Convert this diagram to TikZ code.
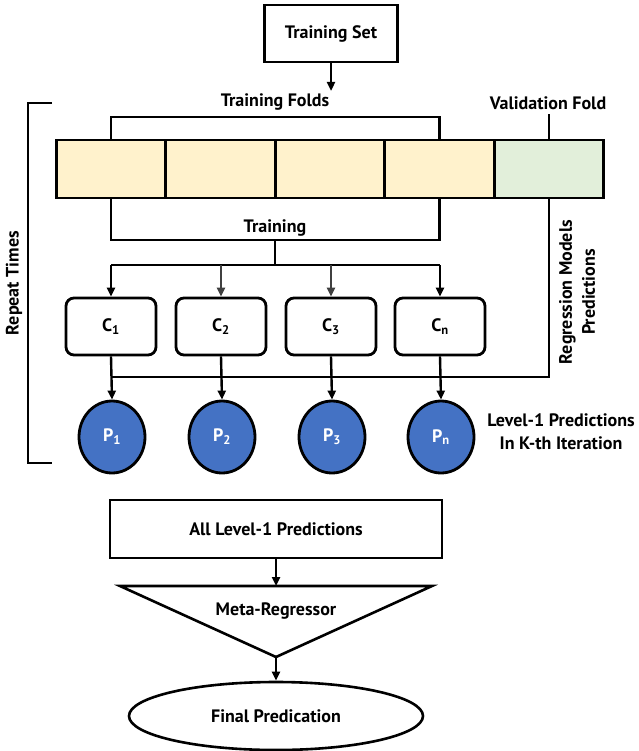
\documentclass[tikz,border=0pt]{standalone}
\usepackage{fontspec}
\setmainfont{PT Sans}
\usetikzlibrary{arrows.meta,shapes.geometric}
\definecolor{foldyellow}{HTML}{FFF2CC}
\definecolor{foldgreen}{HTML}{E2EFDA}
\definecolor{pblue}{HTML}{4472C4}
\definecolor{arrgray}{HTML}{404040}
\begin{document}
\begin{tikzpicture}[x=1pt,y=-1pt,
  every node/.style={font=\fontsize{18}{23}\selectfont\bfseries, inner sep=0pt},
  ln/.style={line width=2.6pt},
  arr/.style={line width=2.4pt,-{Triangle[length=9pt,width=8pt]}},
  sqbox/.style={draw,line width=2.8pt,rectangle},
  cell/.style={draw,line width=2.6pt,rectangle,minimum width=109.5pt,minimum height=58pt},
  cbox/.style={draw,line width=2.8pt,rectangle,rounded corners=8pt,fill=white,minimum width=90pt,minimum height=57pt},
  pnode/.style={draw,line width=2.8pt,ellipse,fill=pblue,text=white,minimum width=66pt,minimum height=72pt}
]
\useasboundingbox (0,0) rectangle (638,751);
% training set
\node[sqbox,minimum width=133pt,minimum height=57pt] (ts) at (331,33.5) {Training Set};
\coordinate (tsend) at (331,91);
\draw[arr] (ts.south) -- (tsend);
% labels
\node (tflab) at (275,102) {Training Folds};
\node (vflab) at (548,103) {Validation Fold};
% folds
\node[cell,fill=foldyellow] (f1) at (111,169) {};
\node[cell,fill=foldyellow] (f2) at (220.5,169) {};
\node[cell,fill=foldyellow] (f3) at (330,169) {};
\node[cell,fill=foldyellow] (f4) at (439.5,169) {};
\node[cell,fill=foldgreen] (f5) at (549,169) {};
% top bracket
\coordinate (tbr) at (275,117);
\draw[ln] (f1.north) |- (tbr) -| (f4.north);
\coordinate (vtop) at (549,114);
\draw[ln] (f5.north) -- (vtop);
% bottom bracket
\coordinate (bbr) at (275,240);
\draw[ln] (f1.south) |- (bbr) -| (f4.south);
\node (trlab) at (275,228) {Training};
% classifiers
\node[cbox] (c1) at (111,326.5) {C\textsubscript{1}};
\node[cbox] (c2) at (221,326.5) {C\textsubscript{2}};
\node[cbox] (c3) at (331,326.5) {C\textsubscript{3}};
\node[cbox] (c4) at (440,326.5) {C\textsubscript{n}};
\coordinate (hb) at (275,265);
\draw[ln] (bbr) -- (hb);
\draw[ln] (c1.north |- hb) -- (c4.north |- hb);
\draw[arr] (c1.north |- hb) -- (c1.north);
\draw[arr,arrgray] (c2.north |- hb) -- (c2.north);
\draw[arr,arrgray] (c3.north |- hb) -- (c3.north);
\draw[arr] (c4.north |- hb) -- (c4.north);
% predictions
\node[pnode] (p1) at (112,437) {P\textsubscript{1}};
\node[pnode] (p2) at (222,437) {P\textsubscript{2}};
\node[pnode] (p3) at (332,437) {P\textsubscript{3}};
\node[pnode] (p4) at (441,437) {P\textsubscript{n}};
\draw[arr] (c1.south) -- (p1.north);
\draw[arr] (c2.south) -- (p2.north);
\draw[arr] (c3.south) -- (p3.north);
\draw[arr] (c4.south) -- (p4.north);
% validation return line
\coordinate (vr) at (549,377);
\draw[ln] (f5.south) -- (vr) -- (c1.south |- vr);
\node[rotate=90,align=center] (rmp) at (577,292) {Regression Models\\Predictions};
\node[align=center] (l1lab) at (561,432) {Level-1 Predictions\\In K-th Iteration};
% repeat bracket
\coordinate (rb1) at (52,103);
\coordinate (rb2) at (28,463);
\coordinate (rb3) at (52,463);
\draw[ln] (rb1) -| (rb2) -- (rb3);
\node[rotate=90] (rep) at (14,283) {Repeat Times};
% lower part
\node[sqbox,minimum width=332pt,minimum height=58pt] (all) at (276,529) {All Level-1 Predictions};
\coordinate (t1) at (120,586);
\coordinate (t2) at (432,586);
\coordinate (t3) at (276,657);
\draw[ln,line join=miter] (t1) -- (t2) -- (t3) -- cycle;
\node (meta) at (276,611) {Meta-Regressor};
\draw[arr] (all.south) -- (276,586);
\node[draw,line width=2.6pt,ellipse,minimum width=294pt,minimum height=68pt] (fin) at (276,716) {Final Predication};
\draw[arr] (t3) -- (fin.north);
\end{tikzpicture}
\end{document}
